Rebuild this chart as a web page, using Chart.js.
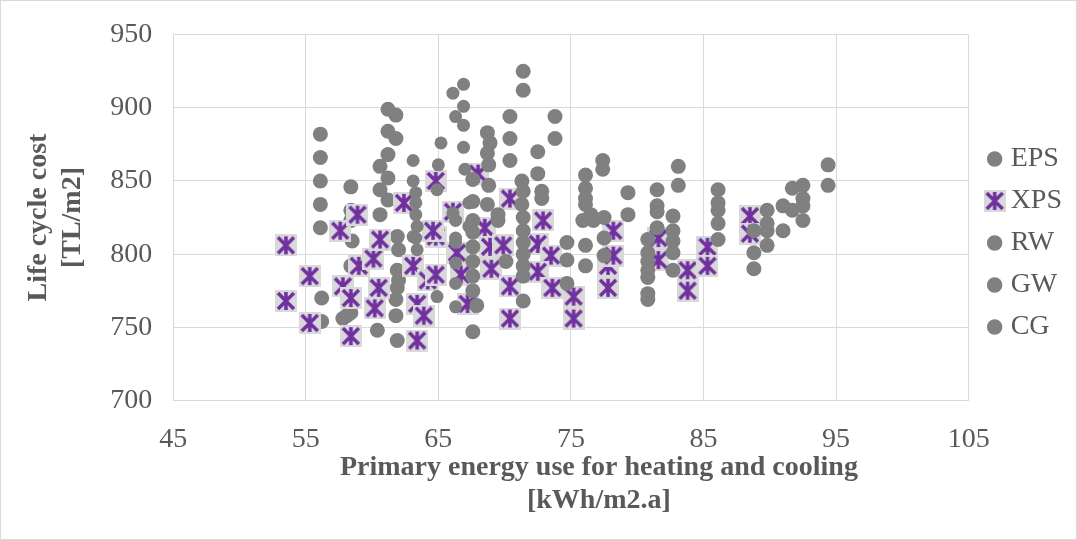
<!DOCTYPE html>
<html>
<head>
<meta charset="utf-8">
<script src="https://cdn.jsdelivr.net/npm/chart.js"></script>
<style>
  body { margin: 0; background: #fff; }
  #wrap { width: 1077px; height: 540px; box-sizing: border-box; border: 1px solid #d9d9d9; }
</style>
</head>
<body>
<div id="wrap"><canvas id="lcc" width="1075" height="538"></canvas></div>
<script>
// values: [primary energy, life cycle cost]
const eps = [
  [56.1, 882], [56.1, 866], [56.1, 850], [56.1, 834], [56.1, 818], [56.2, 770], [56.2, 754],
  [57.8, 756], [58.1, 758], [58.4, 846], [58.4, 830], [58.4, 823], [58.5, 809], [58.4, 792], [58.4, 760],
  [60.4, 748], [60.6, 860], [60.6, 844], [60.6, 827],
  [61.2, 899], [61.2, 884], [61.2, 868], [61.2, 852], [61.2, 837],
  [61.8, 895], [61.8, 879], [61.9, 812], [62.0, 803], [61.9, 789], [62.0, 782], [61.9, 777],
  [61.8, 769], [61.8, 758], [61.9, 741]
];
const xps = [
  [53.5, 806], [53.5, 768], [55.3, 785], [55.3, 753], [57.6, 816], [57.8, 778], [58.4, 770],
  [58.4, 744], [58.9, 827], [59.0, 792], [60.1, 797], [60.5, 777], [60.2, 763], [60.6, 810],
  [62.4, 835], [63.1, 792], [63.4, 766], [63.9, 758], [63.4, 741], [64.2, 782], [64.8, 786],
  [64.8, 812], [64.8, 850], [64.6, 816], [66.1, 829], [66.4, 801], [66.7, 786], [67.2, 766],
  [68.0, 855], [68.5, 818], [68.9, 805], [69.0, 790], [69.9, 806], [70.4, 838], [70.4, 778],
  [70.4, 756], [72.5, 807], [72.9, 823], [73.5, 799], [72.5, 788], [73.6, 777], [75.2, 771],
  [75.2, 756], [77.8, 792], [77.8, 777], [78.2, 816], [78.2, 799], [81.6, 811], [81.6, 796],
  [83.8, 789], [83.8, 775], [85.3, 805], [85.3, 792], [88.5, 826], [88.5, 814]
];
const rw = [
  [63.1, 864], [63.1, 850], [63.3, 842], [63.3, 835], [63.3, 827], [63.4, 819], [63.1, 812],
  [63.4, 803], [63.3, 811], [65.2, 876], [65.0, 861], [64.9, 844], [64.9, 771],
  [66.1, 910], [66.3, 894], [66.1, 828], [66.3, 823], [66.3, 811], [66.3, 808], [66.3, 794],
  [66.3, 780], [66.3, 764], [66.9, 916], [66.9, 901], [66.9, 888], [66.9, 873], [67.0, 858],
  [67.3, 835], [67.3, 819]
];
const gw = [
  [67.6, 851], [67.6, 836], [67.6, 747], [67.9, 765], [67.6, 823], [67.6, 815], [67.6, 805],
  [67.6, 795], [67.6, 785], [67.6, 775], [68.7, 883], [68.9, 876], [68.7, 869], [68.8, 861],
  [68.8, 847], [68.7, 834], [69.5, 827], [69.5, 823], [70.1, 795], [70.4, 894], [70.4, 879],
  [70.4, 864], [71.4, 925], [71.4, 912], [71.3, 850], [71.4, 843], [71.3, 834], [71.4, 825],
  [71.4, 816], [71.4, 808], [71.4, 800], [71.4, 792], [71.4, 785], [71.4, 768],
  [72.5, 870], [72.5, 855], [72.8, 843], [72.8, 838], [73.8, 894], [73.8, 879]
];
const cg = [
  [74.7, 808], [74.7, 796], [74.7, 780], [76.1, 854], [76.1, 845], [76.1, 838], [76.1, 834],
  [76.5, 827], [76.7, 823], [75.9, 823], [76.1, 806], [76.1, 792], [77.4, 864], [77.4, 858],
  [77.5, 825], [77.5, 811], [77.5, 799], [79.3, 842], [79.3, 827],
  [80.8, 810], [80.8, 801], [80.8, 795], [80.8, 789], [80.8, 784], [80.8, 773], [80.8, 769],
  [81.5, 844], [81.5, 833], [81.5, 829], [81.5, 818], [83.1, 860], [83.1, 847], [82.7, 826],
  [82.7, 816], [82.7, 809], [82.7, 801], [82.7, 789], [86.1, 844], [86.1, 835], [86.1, 830],
  [86.1, 821], [86.1, 810], [88.8, 816], [88.8, 801], [88.8, 790], [89.8, 830], [89.8, 821],
  [89.8, 816], [89.8, 806], [91.0, 833], [91.0, 816], [91.7, 845], [91.7, 830], [92.5, 847],
  [92.5, 838], [92.5, 833], [92.5, 823], [94.4, 861], [94.4, 847]
];

const xTicks = [45, 55, 65, 75, 85, 95, 105];
const yTicks = [700, 750, 800, 850, 900, 950];

const GRAY = "#808080";
const PURPLE = "#7030a0";
const TEXT = "#595959";
const GRID = "#d9d9d9";
const FONT = "'Liberation Serif', 'Times New Roman', serif";

// excel "star" marker: light square with an X and a vertical bar
function starMarker(size) {
  const c = document.createElement("canvas");
  c.width = size;
  c.height = size;
  const g = c.getContext("2d");
  g.fillStyle = GRID;
  g.fillRect(0, 0, size, size);
  g.strokeStyle = PURPLE;
  g.lineWidth = 3.5;
  g.beginPath();
  g.moveTo(3, 3);
  g.lineTo(size - 3, size - 3);
  g.moveTo(size - 3, 3);
  g.lineTo(3, size - 3);
  g.moveTo(size / 2, 2);
  g.lineTo(size / 2, size - 2);
  g.stroke();
  return c;
}

const toPts = (arr) => arr.map((p) => ({ x: p[0], y: p[1] }));

function grayDs(label, data, r, order) {
  return {
    label: label,
    data: toPts(data),
    backgroundColor: GRAY,
    borderColor: GRAY,
    borderWidth: 0,
    pointRadius: r,
    order: order,
  };
}

// the legend sits a bit higher and further right in the original
const legendNudge = {
  id: "legendNudge",
  afterLayout(chart) {
    const lg = chart.legend;
    lg.top -= 19;
    lg.bottom -= 19;
    lg.left += 10;
    lg.right += 10;
  },
};

new Chart(document.getElementById("lcc"), {
  type: "scatter",
  data: {
    datasets: [
      grayDs("EPS", eps, 7.5, 5),
      {
        label: "XPS",
        data: toPts(xps),
        pointStyle: starMarker(22),
        backgroundColor: PURPLE,
        borderColor: PURPLE,
        order: 4,
      },
      grayDs("RW", rw, 6.5, 3),
      grayDs("GW", gw, 7.5, 2),
      grayDs("CG", cg, 7.5, 1),
    ],
  },
  plugins: [legendNudge],
  options: {
    responsive: false,
    animation: false,
    events: [],
    layout: { padding: { left: 21, top: 6, right: 14, bottom: 22 } },
    plugins: {
      tooltip: { enabled: false },
      legend: {
        position: "right",
        labels: {
          usePointStyle: true,
          boxWidth: 4,
          boxHeight: 11,
          padding: 14,
          color: TEXT,
          font: { family: FONT, size: 28 },
          sort: (a, b) => a.datasetIndex - b.datasetIndex,
        },
      },
    },
    scales: {
      x: {
        type: "linear",
        min: xTicks[0],
        max: xTicks[xTicks.length - 1],
        afterBuildTicks: (s) => { s.ticks = xTicks.map((v) => ({ value: v })); },
        grid: { color: GRID, drawTicks: false },
        border: { color: GRID },
        ticks: { color: TEXT, font: { family: FONT, size: 28, lineHeight: 0.8 }, padding: 28 },
        title: {
          display: true,
          text: ["\u2003\u2003Primary energy use for heating and cooling", "\u2003\u2003[kWh/m2.a]"],
          color: TEXT,
          font: { family: FONT, size: 28, weight: "bold", lineHeight: 1.18 },
          padding: { top: -28, bottom: 0 },
        },
      },
      y: {
        type: "linear",
        min: yTicks[0],
        max: yTicks[yTicks.length - 1],
        afterBuildTicks: (s) => { s.ticks = yTicks.map((v) => ({ value: v })); },
        grid: { color: GRID, drawTicks: false },
        border: { color: GRID },
        ticks: { color: TEXT, font: { family: FONT, size: 28, lineHeight: 0.9 }, padding: 21 },
        title: {
          display: true,
          text: ["Life cycle cost", "[TL/m2]"],
          color: TEXT,
          font: { family: FONT, size: 28, weight: "bold" },
          padding: { top: 0, bottom: 0 },
        },
      },
    },
  },
});
</script>
</body>
</html>
